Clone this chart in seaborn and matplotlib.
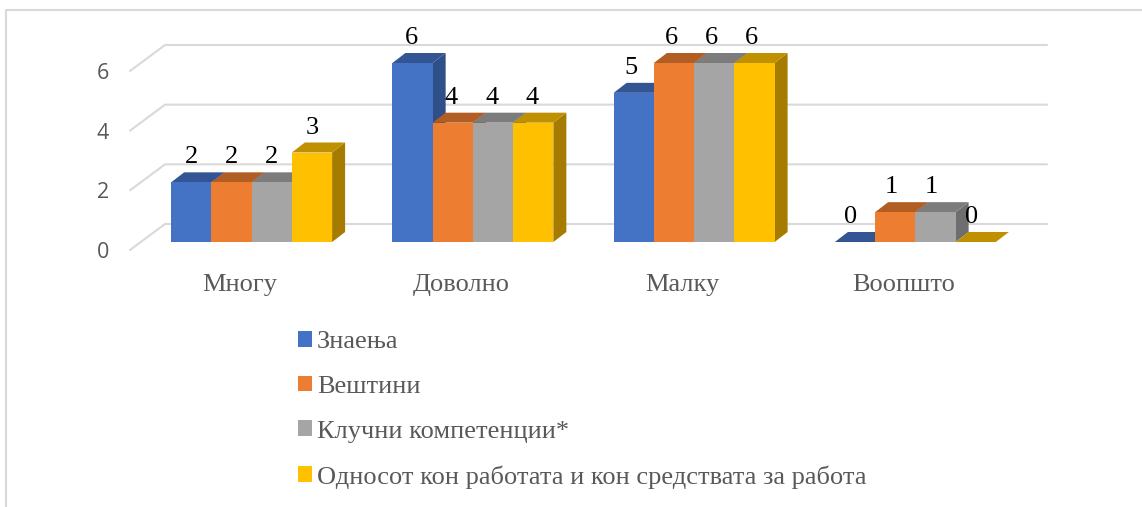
import pandas as pd
import matplotlib

matplotlib.use("Agg")
import matplotlib.pyplot as plt
import matplotlib.transforms as mtrans
from matplotlib.lines import Line2D
from matplotlib.patches import Polygon
import seaborn as sns

categories = ["Многу", "Доволно", "Малку", "Воопшто"]
series = ["Знаења", "Вештини", "Клучни компетенции*", "Односот кон работата и кон средствата за работа"]
znaenja = [2, 6, 5, 0]
vestini = [2, 4, 6, 1]
klucni = [2, 4, 6, 1]
odnosot = [3, 4, 6, 0]
front_colors = ["#4472c4", "#ed7d31", "#a5a5a5", "#ffc000"]
top_colors = ["#335593", "#b25d24", "#7c7c7c", "#bf9000"]
side_colors = ["#2f4f88", "#9c5020", "#6e6e6e", "#a67c00"]

W, H = 1142, 507
SERIF = "Liberation Serif"
SANS = "Open Sans"
TEXT = "#595959"

df = pd.DataFrame({
    "category": categories * 4,
    "series": [s for s in series for _ in categories],
    "value": znaenja + vestini + klucni + odnosot,
})

sns.set_theme(style="white")
fig = plt.figure(figsize=(W / 100, H / 100), dpi=100)
ax = fig.add_axes([141 / W, (H - 242) / H, 885 / W, 179 / H])
ax.patch.set_visible(False)
sns.barplot(data=df, x="category", y="value", hue="series", palette=front_colors,
            saturation=1, width=0.7275, gap=0, errorbar=None, ax=ax, zorder=3, linewidth=0)
ax.set_xlim(-0.5, 3.5)
ax.set_ylim(0, 6)
ax.set_xlabel("")
ax.set_ylabel("")
sns.despine(ax=ax, left=True, bottom=True)

# back wall gridlines and the slanted lines on the left
for v in [0, 2, 4, 6]:
    y = ax.transData.transform((0, v))[1]
    xs = [130 / W, 165 / W, 1047 / W]
    ys = [(y - 8) / H, (y + 18) / H, (y + 18) / H]
    fig.add_artist(Line2D(xs, ys, color="#d9d9d9", lw=1.5, zorder=0))

# 3D faces worked out from the bars seaborn drew
DX, DY = 13, 10
dx = DX / (885 / 4)
dy = DY / (179 / 6)
for i, cont in enumerate(ax.containers):
    for bar in cont:
        x0, w, h = bar.get_x(), bar.get_width(), bar.get_height()
        bar.set_zorder(3 + i * 0.1 + 0.05)
        ax.add_patch(Polygon([(x0 + w, 0), (x0 + w + dx, dy), (x0 + w + dx, h + dy), (x0 + w, h)],
                             fc=side_colors[i], ec="none", zorder=3 + i * 0.1, clip_on=False))
        ax.add_patch(Polygon([(x0, h), (x0 + dx, h + dy), (x0 + w + dx, h + dy), (x0 + w, h)],
                             fc=top_colors[i], ec="none", zorder=3 + i * 0.1 + 0.02, clip_on=False))
    labels = ax.bar_label(cont, padding=10, fontsize=19, family=SERIF, color="black",
                          zorder=6, clip_on=False)
    # labels drift left a little from group to group in the original
    for j, t in enumerate(labels):
        t.xyann = (t.xyann[0] - j, t.xyann[1])

ax.set_yticks([0, 2, 4, 6])
ax.tick_params(axis="y", length=0, pad=23, labelsize=15.5, labelcolor=TEXT)
ax.tick_params(axis="x", length=0, pad=23, labelsize=19, labelcolor=TEXT)
for t in ax.get_yticklabels():
    t.set_family(SANS)
    t.set_transform(t.get_transform() + mtrans.ScaledTranslation(0, -8 / 100, fig.dpi_scale_trans))
for t in ax.get_xticklabels():
    t.set_family(SERIF)
    t.set_transform(t.get_transform() + mtrans.ScaledTranslation(-12 / 100, 0, fig.dpi_scale_trans))

handles, labels = ax.get_legend_handles_labels()
ax.legend(handles, labels, loc="upper left", bbox_to_anchor=(298 / W, 1 - 331 / H),
          bbox_transform=fig.transFigure, frameon=False, ncol=1,
          prop={"family": SERIF, "size": 19}, labelcolor=TEXT, labelspacing=0.855,
          handlelength=0.53, handleheight=0.53, handletextpad=0.19, borderpad=0, borderaxespad=0)

# chart frame, open on the right
fig.add_artist(Line2D([6 / W, 6 / W, 1], [0, 1 - 10 / H, 1 - 10 / H], color="#d9d9d9", lw=1.5))

fig.savefig("out.png", dpi=100)
